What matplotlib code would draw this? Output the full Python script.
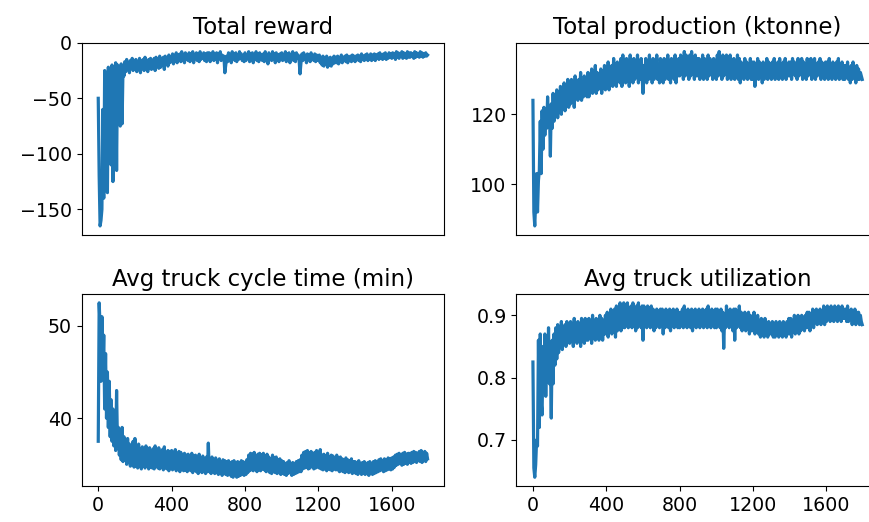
#!/usr/bin/env python3
# -*- coding: utf-8 -*-

import numpy as np
import matplotlib
matplotlib.use("Agg")
import matplotlib.pyplot as plt

# episodes sampled every 5 (one row below = 100 episodes)
episodes = np.arange(0, 1800, 5)

total_reward = [
    -50, -120, -165, -160, -150, -60, -140, -25, -130, -40, -135, -22, -95, -30, -110, -20, -125, -45, -100, -18,
    -115, -20, -60, -25, -75, -19, -73, -22, -30, -17, -26, -15, -24, -18, -27, -16, -22, -14, -25, -17,
    -24, -15, -26, -17, -22, -14, -27, -16, -23, -15, -25, -13, -21, -17, -26, -15, -23, -14, -24, -16,
    -22, -14, -25, -13, -21, -16, -23, -12, -22, -15, -20, -13, -24, -12, -19, -14, -21, -11, -18, -13,
    -17, -10, -19, -12, -16, -9, -18, -11, -15, -10, -17, -8, -16, -12, -18, -9, -15, -11, -16, -9,
    -17, -10, -15, -8, -18, -11, -14, -9, -16, -10, -17, -8, -15, -12, -14, -9, -16, -10, -17, -9,
    -15, -9, -17, -10, -14, -8, -16, -11, -15, -9, -18, -10, -14, -8, -16, -11, -15, -12, -27, -20,
    -12, -17, -9, -15, -11, -18, -8, -14, -10, -16, -9, -17, -11, -15, -8, -14, -10, -16, -12, -17,
    -9, -16, -11, -14, -8, -17, -10, -15, -9, -18, -11, -14, -8, -16, -10, -17, -9, -15, -11, -16,
    -10, -17, -8, -15, -11, -19, -9, -14, -12, -16, -8, -15, -10, -18, -9, -14, -11, -17, -10, -15,
    -9, -16, -11, -15, -8, -17, -10, -14, -9, -18, -11, -15, -8, -16, -10, -17, -9, -14, -11, -16,
    -28, -18, -10, -16, -9, -15, -12, -18, -10, -14, -11, -17, -9, -15, -12, -16, -10, -17, -11, -15,
    -16, -11, -18, -13, -20, -12, -21, -14, -19, -12, -22, -14, -20, -13, -21, -15, -19, -12, -18, -13,
    -18, -12, -19, -14, -17, -11, -18, -13, -16, -12, -17, -11, -18, -13, -16, -12, -17, -11, -16, -12,
    -17, -12, -15, -11, -16, -12, -17, -10, -15, -12, -16, -11, -15, -10, -16, -12, -15, -10, -16, -11,
    -15, -10, -16, -11, -14, -10, -15, -9, -14, -11, -15, -10, -14, -9, -15, -11, -14, -9, -13, -10,
    -14, -9, -13, -10, -15, -8, -13, -9, -14, -10, -12, -8, -14, -9, -13, -10, -14, -8, -13, -9,
    -13, -9, -12, -10, -14, -8, -13, -9, -12, -10, -13, -8, -12, -9, -13, -10, -12, -9, -12, -11,
]

total_production = [
    124, 92, 88, 95, 103, 92, 101, 104, 118, 103, 121, 110, 122, 114, 120, 116, 125, 117, 121, 108,
    123, 116, 126, 118, 124, 120, 127, 119, 125, 121, 128, 120, 126, 122, 129, 121, 127, 123, 130, 122,
    128, 123, 130, 124, 129, 122, 131, 125, 128, 124, 130, 126, 132, 124, 129, 125, 131, 127, 130, 125,
    132, 125, 130, 127, 133, 126, 131, 128, 134, 126, 132, 127, 131, 128, 133, 126, 132, 128, 134, 127,
    133, 128, 135, 127, 132, 129, 134, 128, 136, 129, 133, 128, 135, 130, 134, 129, 136, 128, 137, 130,
    134, 129, 136, 130, 135, 128, 137, 131, 134, 129, 136, 130, 135, 131, 137, 129, 134, 130, 136, 131,
    126, 134, 131, 136, 129, 135, 130, 137, 131, 134, 129, 136, 130, 135, 131, 137, 130, 134, 129, 136,
    131, 135, 129, 136, 130, 134, 131, 137, 130, 135, 129, 136, 131, 134, 130, 137, 129, 135, 131, 136,
    131, 137, 132, 136, 130, 138, 131, 137, 132, 136, 130, 137, 131, 138, 132, 136, 130, 137, 131, 136,
    131, 136, 130, 135, 132, 137, 130, 136, 131, 135, 130, 137, 131, 136, 132, 135, 130, 136, 131, 135,
    130, 137, 131, 138, 132, 136, 130, 137, 131, 136, 132, 137, 130, 136, 131, 137, 130, 135, 131, 136,
    130, 135, 132, 137, 130, 136, 129, 135, 131, 134, 130, 136, 131, 135, 130, 134, 131, 136, 130, 135,
    130, 135, 128, 134, 131, 136, 130, 135, 131, 134, 129, 135, 130, 134, 131, 136, 130, 135, 131, 134,
    130, 135, 131, 136, 130, 134, 131, 135, 130, 136, 131, 134, 130, 135, 131, 136, 130, 134, 131, 135,
    131, 135, 130, 136, 132, 135, 131, 134, 130, 136, 131, 135, 132, 136, 130, 135, 131, 134, 130, 136,
    131, 135, 132, 136, 130, 135, 131, 136, 130, 134, 131, 135, 132, 136, 130, 135, 131, 134, 130, 135,
    131, 135, 130, 136, 131, 134, 130, 135, 131, 134, 130, 135, 131, 136, 130, 134, 131, 135, 130, 134,
    130, 134, 131, 135, 130, 133, 129, 134, 130, 135, 131, 133, 129, 134, 130, 133, 130, 132, 131, 130,
]

cycle_time = [
    37.5, 52.5, 50, 44, 51, 45, 49, 41, 47, 40, 45, 39, 44, 38, 42, 37.5, 41, 37, 39.5, 36.5,
    43, 37, 39, 36, 38.5, 35.5, 39, 35.3, 38, 35.5, 37.5, 35, 37.8, 35.2, 37.2, 34.8, 37, 35, 37.5, 34.7,
    37.8, 34.8, 36.8, 34.6, 37.2, 34.9, 36.5, 34.5, 36.9, 35, 36.4, 34.6, 37, 34.8, 36.3, 34.5, 36.8, 34.7, 36.2, 34.6,
    36.7, 34.5, 37, 34.8, 36.4, 34.6, 36.8, 34.5, 36.3, 34.7, 36.6, 34.4, 36.9, 34.6, 36.2, 34.5, 36.5, 34.3, 36.4, 34.6,
    36.5, 34.4, 36.2, 34.6, 36.6, 34.3, 36, 34.5, 36.4, 34.2, 36.3, 34.5, 35.9, 34.3, 36.2, 34.4, 36, 34.2, 36.1, 34.4,
    35.8, 34.3, 36.2, 34.1, 35.9, 34.4, 36, 34.2, 35.8, 34, 36.1, 34.3, 35.7, 34.1, 35.9, 34.2, 35.6, 34, 35.8, 34.2,
    37.3, 34.2, 35.6, 34, 35.8, 34.3, 35.5, 34, 35.7, 34.1, 35.4, 33.9, 35.6, 34.1, 35.3, 33.8, 35.5, 34, 35.4, 33.9,
    35.3, 33.8, 35.4, 33.9, 35.2, 33.7, 35.3, 33.6, 35.4, 33.8, 35.1, 33.6, 35.3, 33.7, 35.2, 33.8, 35.4, 33.9, 35.3, 33.8,
    35.2, 33.9, 35.5, 34.1, 36, 34.3, 36.2, 34.4, 36.1, 34.3, 36.3, 34.5, 35.9, 34.2, 36.1, 34.4, 36.2, 34.3, 36, 34.5,
    36.2, 34.4, 35.9, 34.2, 36.1, 34.3, 35.8, 34.1, 35.6, 34, 36, 34.2, 35.7, 34.1, 35.8, 34, 35.5, 34.1, 35.6, 33.9,
    35.4, 34, 35.3, 33.9, 35.1, 33.8, 35.2, 34, 35.4, 34.1, 35, 33.8, 35.2, 33.9, 35.1, 34, 35.3, 34.1, 35.4, 34.2,
    35.5, 34.2, 36, 34.5, 36.3, 34.6, 36.4, 34.7, 36.5, 34.5, 36.2, 34.6, 36.4, 34.8, 36.1, 34.5, 36.3, 34.6, 36.5, 34.7,
    36.2, 34.6, 36.6, 34.5, 36, 34.4, 36.1, 34.5, 35.9, 34.3, 36.2, 34.5, 35.8, 34.4, 36, 34.3, 35.9, 34.5, 35.7, 34.4,
    36, 34.4, 35.7, 34.2, 35.8, 34.3, 35.6, 34.2, 35.5, 34.1, 35.7, 34.3, 35.5, 34.1, 35.4, 34.2, 35.6, 34, 35.3, 34.1,
    35.3, 34, 35.2, 33.9, 35.4, 34.1, 35.1, 33.9, 35.2, 34, 35.3, 33.9, 35.1, 34, 35.2, 33.8, 35.3, 34, 35.1, 33.9,
    35.3, 34, 35.4, 34.1, 35.2, 34.2, 35.5, 34.3, 35.6, 34.4, 35.4, 34.2, 35.6, 34.3, 35.5, 34.4, 35.7, 34.5, 35.6, 34.4,
    35.7, 34.5, 35.8, 34.7, 36, 34.9, 36.1, 35, 36.2, 35.1, 36, 34.9, 36.2, 35, 36.3, 35.1, 36.1, 35, 36.2, 35.2,
    36.2, 35.1, 36.3, 35.2, 36.4, 35.3, 36.3, 35.2, 36.2, 35.4, 36.4, 35.3, 36.5, 35.2, 36.3, 35.4, 36.4, 35.3, 36.2, 35.6,
]

utilization = [
    0.825, 0.655, 0.64, 0.66, 0.70, 0.69, 0.86, 0.72, 0.87, 0.76, 0.74, 0.85, 0.78, 0.87, 0.77, 0.86, 0.80, 0.88, 0.79, 0.83,
    0.735, 0.86, 0.79, 0.87, 0.82, 0.88, 0.83, 0.885, 0.84, 0.87, 0.85, 0.89, 0.845, 0.88, 0.855, 0.885, 0.85, 0.89, 0.86, 0.88,
    0.855, 0.89, 0.86, 0.885, 0.85, 0.895, 0.86, 0.88, 0.855, 0.89, 0.865, 0.885, 0.85, 0.895, 0.86, 0.89, 0.855, 0.895, 0.86, 0.885,
    0.86, 0.895, 0.865, 0.89, 0.855, 0.90, 0.865, 0.885, 0.86, 0.895, 0.87, 0.89, 0.86, 0.90, 0.865, 0.895, 0.86, 0.89, 0.87, 0.90,
    0.87, 0.905, 0.865, 0.90, 0.875, 0.91, 0.87, 0.905, 0.88, 0.91, 0.865, 0.915, 0.875, 0.905, 0.88, 0.92, 0.875, 0.91, 0.88, 0.92,
    0.88, 0.915, 0.885, 0.92, 0.88, 0.91, 0.885, 0.915, 0.88, 0.92, 0.885, 0.91, 0.875, 0.915, 0.88, 0.92, 0.885, 0.91, 0.88, 0.915,
    0.86, 0.915, 0.885, 0.91, 0.88, 0.915, 0.885, 0.905, 0.88, 0.915, 0.885, 0.91, 0.875, 0.905, 0.88, 0.91, 0.885, 0.905, 0.88, 0.91,
    0.885, 0.91, 0.87, 0.905, 0.88, 0.91, 0.885, 0.905, 0.88, 0.91, 0.875, 0.905, 0.885, 0.91, 0.88, 0.905, 0.885, 0.91, 0.88, 0.905,
    0.88, 0.905, 0.885, 0.91, 0.88, 0.915, 0.885, 0.905, 0.88, 0.91, 0.885, 0.905, 0.88, 0.91, 0.875, 0.905, 0.885, 0.91, 0.88, 0.905,
    0.885, 0.91, 0.88, 0.905, 0.885, 0.91, 0.88, 0.905, 0.885, 0.91, 0.88, 0.915, 0.885, 0.905, 0.88, 0.91, 0.885, 0.905, 0.88, 0.91,
    0.88, 0.91, 0.885, 0.905, 0.88, 0.91, 0.875, 0.905, 0.847, 0.90, 0.88, 0.915, 0.885, 0.905, 0.88, 0.91, 0.885, 0.905, 0.875, 0.91,
    0.86, 0.91, 0.88, 0.905, 0.885, 0.915, 0.88, 0.905, 0.875, 0.90, 0.88, 0.905, 0.875, 0.90, 0.88, 0.905, 0.87, 0.90, 0.875, 0.895,
    0.875, 0.905, 0.87, 0.895, 0.875, 0.90, 0.87, 0.89, 0.865, 0.895, 0.87, 0.89, 0.865, 0.895, 0.87, 0.885, 0.865, 0.89, 0.87, 0.885,
    0.87, 0.89, 0.865, 0.885, 0.865, 0.89, 0.87, 0.885, 0.865, 0.89, 0.87, 0.885, 0.865, 0.89, 0.87, 0.885, 0.865, 0.89, 0.87, 0.895,
    0.87, 0.895, 0.865, 0.89, 0.875, 0.90, 0.87, 0.895, 0.875, 0.90, 0.87, 0.895, 0.875, 0.90, 0.88, 0.895, 0.875, 0.90, 0.88, 0.905,
    0.88, 0.905, 0.875, 0.90, 0.885, 0.91, 0.88, 0.905, 0.89, 0.91, 0.885, 0.905, 0.89, 0.91, 0.885, 0.905, 0.89, 0.915, 0.885, 0.91,
    0.89, 0.915, 0.895, 0.91, 0.89, 0.915, 0.895, 0.91, 0.89, 0.915, 0.895, 0.91, 0.89, 0.915, 0.895, 0.91, 0.89, 0.915, 0.895, 0.91,
    0.895, 0.91, 0.89, 0.915, 0.89, 0.905, 0.895, 0.91, 0.885, 0.905, 0.89, 0.91, 0.885, 0.905, 0.89, 0.905, 0.885, 0.90, 0.89, 0.885,
]

titles = ["Total reward", "Total production (ktonne)",
          "Avg truck cycle time (min)", "Avg truck utilization"]
series = [total_reward, total_production, cycle_time, utilization]
xticks = [0, 400, 800, 1200, 1600]

plt.rcParams['font.size'] = 13.7

fig, axes = plt.subplots(2, 2, figsize=(8.7, 5.22), dpi=100)
fig.subplots_adjust(left=0.094, right=1.010, bottom=0.069, top=0.918,
                    wspace=0.20, hspace=0.31)

for ax, ttl, vals in zip(axes.flat, titles, series):
    ax.plot(episodes[:len(vals)], vals, color='#1f77b4', linewidth=2.3)
    ax.set_title(ttl, fontsize=16.5)
    ax.set_xticks(xticks)

# top row: no x ticks
for ax in axes[0]:
    ax.tick_params(axis='x', bottom=False, labelbottom=False)

axes[0, 0].set_yticks([-150, -100, -50, 0])
axes[0, 1].set_yticks([100, 120])
axes[1, 0].set_yticks([40, 50])
axes[1, 1].set_yticks([0.7, 0.8, 0.9])

plt.savefig("out.png", dpi=100)
